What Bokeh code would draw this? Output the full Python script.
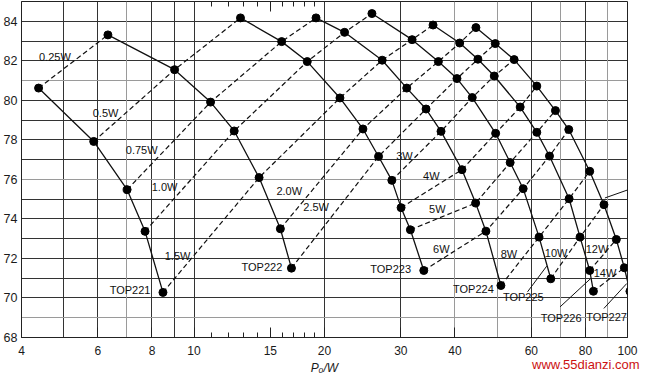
from bokeh.plotting import figure
from bokeh.models import (FixedTicker, LogAxis, BasicTickFormatter, ColumnDataSource,
                          LabelSet, Grid, Div)
from bokeh.layouts import column
from bokeh.core.properties import value
from bokeh.embed import file_html
from bokeh.resources import INLINE

# ---------------- data ----------------
devices = ["TOP221", "TOP222", "TOP223", "TOP224", "TOP225", "TOP226", "TOP227"]

top221_p = [4.38, 5.87, 7.01, 7.71, 8.48]
top221_eff = [80.62, 77.92, 75.48, 73.37, 70.28]
top221_loss = [0.25, 0.5, 0.75, 1.0, 1.5]

top222_p = [6.33, 9.02, 10.92, 12.38, 14.13, 15.82, 16.78]
top222_eff = [83.31, 81.55, 79.91, 78.45, 76.09, 73.50, 71.51]
top222_loss = [0.25, 0.5, 0.75, 1.0, 1.5, 2.0, 2.5]

top223_p = [12.80, 15.93, 18.25, 21.71, 24.53, 26.65, 28.60, 30.04, 31.56, 33.89]
top223_eff = [84.17, 82.97, 81.96, 80.12, 78.55, 77.16, 75.95, 74.57, 73.45, 71.39]
top223_loss = [0.5, 0.75, 1.0, 1.5, 2.0, 2.5, 3, 4, 5, 6]

top224_p = [19.12, 22.25, 27.17, 30.96, 34.30, 37.14, 41.51, 44.63, 47.14, 51.05]
top224_eff = [84.17, 83.44, 82.03, 80.62, 79.56, 78.43, 76.49, 74.80, 73.38, 70.63]
top224_loss = [0.75, 1.0, 1.5, 2.0, 2.5, 3, 4, 5, 6, 8]

top225_p = [25.73, 31.85, 36.62, 40.42, 43.84, 49.64, 53.62, 57.46, 62.52, 66.53]
top225_eff = [84.39, 83.07, 81.96, 81.10, 80.14, 78.33, 76.85, 75.53, 73.08, 70.97]
top225_loss = [1.0, 1.5, 2.0, 2.5, 3, 4, 5, 6, 8, 10]

top226_p = [35.60, 41.01, 45.18, 49.27, 56.55, 61.77, 66.07, 73.33, 77.72, 81.82, 83.43]
top226_eff = [83.81, 82.90, 82.08, 81.23, 79.66, 78.38, 77.18, 75.02, 73.08, 71.39, 70.34]
top226_loss = [1.5, 2.0, 2.5, 3, 4, 5, 6, 8, 10, 12, 14]

top227_p = [44.70, 49.54, 54.77, 61.77, 68.20, 73.20, 81.82, 88.25, 94.24, 98.33, 101.3]
top227_eff = [83.68, 82.87, 82.06, 80.72, 79.48, 78.52, 76.41, 74.72, 72.96, 71.53, 70.34]
top227_loss = [2.0, 2.5, 3, 4, 5, 6, 8, 10, 12, 14, None]

loss_levels = [0.25, 0.5, 0.75, 1.0, 1.5, 2.0, 2.5, 3, 4, 5, 6, 8, 10, 12, 14]
loss_label_text = ["0.25W", "0.5W", "0.75W", "1.0W", "1.5W", "2.0W", "2.5W",
                   "3W", "4W", "5W", "6W", "8W", "10W", "12W", "14W"]
loss_label_x = [4.39, 5.84, 6.96, 7.99, 8.56, 15.49, 17.87, 29.26, 33.76, 34.85,
                35.60, 51.0, 64.45, 80.09, 83.56]
loss_label_y = [82.18, 79.34, 77.47, 75.59, 72.10, 75.39, 74.58, 77.16, 76.15, 74.48,
                72.46, 72.20, 72.30, 72.46, 71.24]

device_label_x = [6.39, 12.87, 25.50, 39.58, 51.59, 63.08, 80.3]
device_label_y = [70.38, 71.59, 71.49, 70.43, 70.03, 69.01, 69.06]

leader_x0 = [58.8, 69.9, 88.2, 100.8]
leader_y0 = [70.31, 69.55, 69.47, 75.49]
leader_x1 = [65.1, 82.2, 99.6, 88.7]
leader_y1 = [71.61, 70.98, 70.73, 75.06]

x_tick_values = [4, 6, 8, 10, 15, 20, 30, 40, 60, 80, 100]
x_tick_labels = ["4", "6", "8", "10", "15", "20", "30", "40", "60", "80", "100"]
x_minor_ticks = [11, 12, 13, 14, 16, 17, 18, 19]
x_long_ticks = [15]
x_grid_dark = [5, 6, 8, 9, 10, 20, 30, 60, 80]
x_grid_light = [7, 40, 50, 70, 90]
y_tick_values = [68, 70, 72, 74, 76, 78, 80, 82, 84]
y_grid_dark = [70, 71, 72, 73, 74, 75, 77, 78, 79, 80, 82, 83, 84]
y_grid_light = [69, 76, 81]
x_axis_title = "P\u2092/W"
watermark = "www.55dianzi.com"

series_p = [top221_p, top222_p, top223_p, top224_p, top225_p, top226_p, top227_p]
series_eff = [top221_eff, top222_eff, top223_eff, top224_eff, top225_eff, top226_eff, top227_eff]
series_loss = [top221_loss, top222_loss, top223_loss, top224_loss, top225_loss, top226_loss, top227_loss]

FONT = "Liberation Sans"

fig = figure(width=646, height=377, x_axis_type="log", x_range=(4, 100), y_range=(68, 85),
             output_backend="svg", toolbar_location=None,
             min_border_left=19, min_border_right=19, min_border_top=1, min_border_bottom=40)
fig.background_fill_color = "white"
fig.border_fill_color = "white"
fig.outline_line_color = "#222222"
fig.outline_line_width = 1

# grid (dark and lighter lines as in the scan)
fig.xgrid.ticker = FixedTicker(ticks=x_grid_dark)
fig.ygrid.ticker = FixedTicker(ticks=y_grid_dark)
for g in (fig.xgrid, fig.ygrid):
    g.grid_line_color = "#333333"
    g.grid_line_width = 1
    g.grid_line_alpha = 1.0
fig.add_layout(Grid(dimension=0, ticker=FixedTicker(ticks=x_grid_light),
                    grid_line_color="#9a9a9a", grid_line_width=1))
fig.add_layout(Grid(dimension=1, ticker=FixedTicker(ticks=y_grid_light),
                    grid_line_color="#9a9a9a", grid_line_width=1))

# x axis (bottom)
xa = fig.xaxis[0]
xa.ticker = FixedTicker(ticks=x_tick_values, minor_ticks=x_minor_ticks)
xa.formatter = BasicTickFormatter()
xa.major_label_overrides = {v: t for v, t in zip(x_tick_values, x_tick_labels)}
xa.major_tick_in = 10
xa.major_tick_out = 0
xa.minor_tick_in = 5
xa.minor_tick_out = 0
xa.major_tick_line_color = "#222222"
xa.minor_tick_line_color = "#222222"
xa.axis_line_color = "#222222"
xa.major_label_text_font = FONT
xa.major_label_text_font_size = "12px"
xa.major_label_text_color = "#1a1a1a"
xa.major_label_standoff = 8
xa.axis_label = x_axis_title
xa.axis_label_text_font = FONT
xa.axis_label_text_font_size = "12px"
xa.axis_label_text_font_style = "italic"
xa.axis_label_text_color = "#1a1a1a"
xa.axis_label_standoff = 3

# top axes: only tick marks (no major ticks -> no labels)
ta = LogAxis(ticker=FixedTicker(ticks=[], minor_ticks=x_minor_ticks),
             minor_tick_in=5, minor_tick_out=0, major_tick_in=0, major_tick_out=0,
             axis_line_color=None, minor_tick_line_color="#222222")
fig.add_layout(ta, "above")
ta2 = LogAxis(ticker=FixedTicker(ticks=[], minor_ticks=x_long_ticks),
              minor_tick_in=10, minor_tick_out=0, major_tick_in=0, major_tick_out=0,
              axis_line_color=None, minor_tick_line_color="#222222")
fig.add_layout(ta2, "above")

# y axis
ya = fig.yaxis[0]
ya.ticker = FixedTicker(ticks=y_tick_values)
ya.major_tick_in = 0
ya.major_tick_out = 0
ya.minor_tick_in = 0
ya.minor_tick_out = 0
ya.axis_line_color = "#222222"
ya.major_label_text_font = FONT
ya.major_label_text_font_size = "12.5px"
ya.major_label_text_color = "#1a1a1a"
ya.major_label_standoff = 4

# dashed iso-loss lines
dash_xs, dash_ys = [], []
for L in loss_levels:
    xs, ys = [], []
    for px, py, pl in zip(series_p, series_eff, series_loss):
        for a, b, c in zip(px, py, pl):
            if c == L:
                xs.append(a)
                ys.append(b)
    dash_xs.append(xs)
    dash_ys.append(ys)
fig.multi_line(dash_xs, dash_ys, line_color="#111111", line_width=1.2, line_dash="5 3")

# solid device curves and points
fig.multi_line(series_p, series_eff, line_color="#111111", line_width=1.3)
all_p = [v for s in series_p for v in s]
all_e = [v for s in series_eff for v in s]
fig.scatter(all_p, all_e, size=8, fill_color="black", line_color="black")

# leader lines
fig.segment(leader_x0, leader_y0, leader_x1, leader_y1, line_color="#111111", line_width=1)

# labels
src_loss = ColumnDataSource(dict(x=loss_label_x, y=loss_label_y, t=loss_label_text))
fig.add_layout(LabelSet(x="x", y="y", text="t", source=src_loss, text_font=value(FONT),
                        text_font_size="11px", text_color="#111111",
                        text_align="left", text_baseline="middle"))
src_dev = ColumnDataSource(dict(x=device_label_x, y=device_label_y, t=devices))
fig.add_layout(LabelSet(x="x", y="y", text="t", source=src_dev, text_font=value(FONT),
                        text_font_size="11px", text_color="#111111",
                        text_align="left", text_baseline="middle"))

# red watermark text under the right end of the x axis
mark = Div(text=watermark, width=112, height=15, margin=(-20, 0, 0, 532),
           styles={"color": "#cc1111", "font-family": FONT, "font-size": "13px",
                   "line-height": "15px", "white-space": "nowrap"})

p = column(fig, mark, spacing=0)
open("out.html", "w").write(file_html(p, INLINE))
